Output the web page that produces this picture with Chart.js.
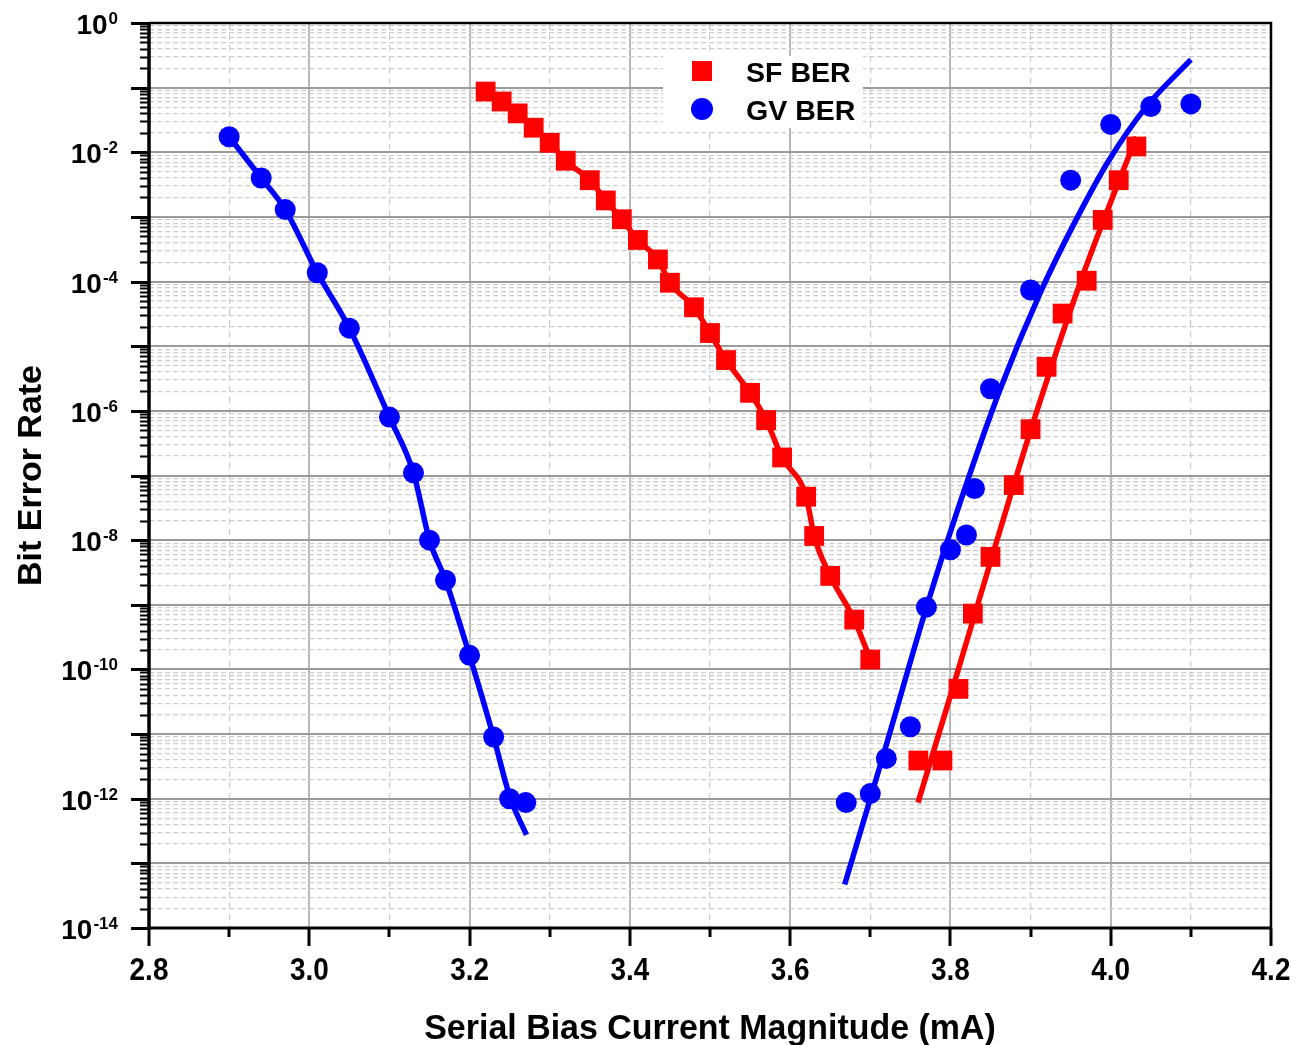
<!DOCTYPE html>
<html><head><meta charset="utf-8">
<script src="https://cdn.jsdelivr.net/npm/chart.js@4.4.1/dist/chart.umd.min.js"></script>
<style>html,body{margin:0;padding:0;background:#fff;overflow:hidden}</style>
</head><body>
<canvas id="c" width="1296" height="1045" style="display:block;width:1296px;height:1045px"></canvas>
<script>
// ---------- DATA ----------
const sfLabel = 'SF BER';
const gvLabel = 'GV BER';
const sfX   = [3.22, 3.24, 3.26, 3.28, 3.30, 3.32, 3.35, 3.37, 3.39, 3.41, 3.435, 3.45, 3.48, 3.50, 3.52, 3.55, 3.57, 3.59, 3.62, 3.63, 3.65, 3.68, 3.70,
               3.76, 3.79, 3.81, 3.828, 3.85, 3.879, 3.90, 3.92, 3.94, 3.97, 3.99, 4.01, 4.032];
const sfBER = [8.7e-2, 6.1e-2, 4.0e-2, 2.4e-2, 1.4e-2, 7.4e-3, 3.7e-3, 1.8e-3, 9.2e-4, 4.4e-4, 2.2e-4, 9.6e-5, 4.0e-5, 1.6e-5, 6.1e-6, 1.9e-6, 7.2e-7, 1.9e-7, 4.7e-8, 1.16e-8, 2.8e-9, 5.9e-10, 1.42e-10,
               3.9e-12, 3.9e-12, 5.0e-11, 7.3e-10, 5.5e-9, 7.1e-8, 5.2e-7, 4.8e-6, 3.2e-5, 1.03e-4, 9.0e-4, 3.7e-3, 1.23e-2];
const gvX   = [2.90, 2.94, 2.97, 3.01, 3.05, 3.10, 3.13, 3.15, 3.17, 3.20, 3.23, 3.25, 3.27,
               3.67, 3.70, 3.72, 3.75, 3.77, 3.80, 3.82, 3.83, 3.85, 3.90, 3.95, 4.00, 4.05, 4.10];
const gvBER = [1.74e-2, 4.0e-3, 1.3e-3, 1.37e-4, 1.9e-5, 8.0e-7, 1.1e-7, 1.0e-8, 2.4e-9, 1.65e-10, 9.0e-12, 1.0e-12, 8.7e-13,
               8.7e-13, 1.2e-12, 4.2e-12, 1.3e-11, 9.2e-10, 7.1e-9, 1.2e-8, 6.3e-8, 2.2e-6, 7.4e-5, 3.7e-3, 2.7e-2, 5.1e-2, 5.6e-2];

// fitted curves
const sfFitLeftX  = [3.22, 3.24, 3.26, 3.28, 3.30, 3.32, 3.35, 3.37, 3.39, 3.41, 3.435, 3.45, 3.48, 3.50, 3.52, 3.55, 3.57, 3.59, 3.62, 3.63, 3.65, 3.68, 3.70];
const sfFitLeftY  = [8.7e-2, 6.1e-2, 4.0e-2, 2.4e-2, 1.4e-2, 7.4e-3, 3.7e-3, 1.8e-3, 9.2e-4, 4.4e-4, 2.2e-4, 9.6e-5, 4.0e-5, 1.6e-5, 6.1e-6, 1.9e-6, 7.2e-7, 1.9e-7, 4.7e-8, 1.16e-8, 2.8e-9, 5.9e-10, 1.42e-10];
const sfFitRightX = [3.7595, 3.805, 3.852, 3.901, 3.963, 4.032];
const sfFitRightY = [8.7e-13, 6.3e-11, 5.6e-9, 5.4e-7, 1.05e-4, 1.74e-2];
const gvFitLeftX  = [2.90, 2.94, 2.97, 3.01, 3.05, 3.10, 3.13, 3.15, 3.17, 3.20, 3.23, 3.25, 3.271];
const gvFitLeftY  = [1.74e-2, 4.0e-3, 1.3e-3, 1.37e-4, 1.9e-5, 8.0e-7, 1.1e-7, 1.0e-8, 2.4e-9, 1.65e-10, 9.0e-12, 1.1e-12, 2.75e-13];
const gvFitRightX = [3.668, 3.70, 3.72, 3.77, 3.81, 3.861, 3.913, 3.959, 3.998, 4.044, 4.10];
const gvFitRightY = [4.7e-14, 1.0e-12, 6.8e-12, 9.1e-10, 3.2e-8, 2.0e-6, 7.1e-5, 1.02e-3, 7.6e-3, 5.0e-2, 2.71e-1];

// axes
const xTickLabels = ['2.8', '3.0', '3.2', '3.4', '3.6', '3.8', '4.0', '4.2'];
const yDecadeExps = [0, -1, -2, -3, -4, -5, -6, -7, -8, -9, -10, -11, -12, -13, -14];
const yLabelExps  = [0, -2, -4, -6, -8, -10, -12, -14];
const xTitle = 'Serial Bias Current Magnitude (mA)';
const yTitle = 'Bit Error Rate';

// ---------- helpers ----------
const RED = '#ff0000', BLUE = '#0000ff';
const FONT = '"Liberation Sans", Arial, Helvetica, sans-serif';
const pts = (xs, ys) => xs.map((x, i) => ({ x: x, y: ys[i] }));
const xMajorVals = xTickLabels.map(Number);
const xMinorVals = xMajorVals.slice(0, -1).map((v, i) => (v + xMajorVals[i + 1]) / 2);
const xAllTicks = xMajorVals.concat(xMinorVals).sort((a, b) => a - b);
const yMajorVals = yDecadeExps.map(e => Math.pow(10, e));
const yMinorVals = [];
yDecadeExps.forEach(e => { if (e > -14) for (let k = 2; k <= 9; k++) yMinorVals.push(k * Math.pow(10, e - 1)); });
const yAllTicks = yMajorVals.concat(yMinorVals).sort((a, b) => a - b);
const isDecade = v => { const l = Math.log10(v); return Math.abs(l - Math.round(l)) < 1e-6; };
const isMajorX = v => xMajorVals.some(m => Math.abs(m - v) < 1e-6);

function txt(ctx, s, x, y, font, align, sx) {
  ctx.save(); ctx.font = font; ctx.textAlign = align; ctx.textBaseline = 'alphabetic';
  ctx.translate(x, y); ctx.scale(sx || 1, 1); ctx.fillStyle = '#000'; ctx.fillText(s, 0, 0); ctx.restore();
}

const decor = {
  id: 'decor',
  beforeDraw(chart) {
    const c = chart.ctx; c.save(); c.fillStyle = '#fff'; c.fillRect(0, 0, chart.width, chart.height); c.restore();
  },
  afterDraw(chart) {
    const c = chart.ctx, a = chart.chartArea, xs = chart.scales.x, ys = chart.scales.y;
    c.save();
    c.strokeStyle = '#000'; c.lineCap = 'butt';
    // y ticks
    yAllTicks.forEach(v => {
      const y = Math.round(ys.getPixelForValue(v)) + 0.5;
      const maj = isDecade(v);
      c.lineWidth = maj ? 3 : 2;
      c.beginPath(); c.moveTo(a.left - (maj ? 18 : 9), y); c.lineTo(a.left, y); c.stroke();
    });
    // x ticks
    xAllTicks.forEach(v => {
      const x = Math.round(xs.getPixelForValue(v));
      const maj = isMajorX(v);
      c.lineWidth = 3;
      c.beginPath(); c.moveTo(x, a.bottom); c.lineTo(x, a.bottom + (maj ? 18 : 9)); c.stroke();
    });
    // frame
    c.lineWidth = 2.5;
    c.beginPath(); c.moveTo(a.left, a.top); c.lineTo(a.right, a.top); c.lineTo(a.right, a.bottom); c.stroke();
    c.lineWidth = 3.5;
    c.beginPath(); c.moveTo(a.left, a.top - 1); c.lineTo(a.left, a.bottom + 2); c.stroke();
    c.lineWidth = 3;
    c.beginPath(); c.moveTo(a.left - 2, a.bottom); c.lineTo(a.right + 1, a.bottom); c.stroke();
    // y tick labels 10^n
    yLabelExps.forEach(e => {
      const y = ys.getPixelForValue(Math.pow(10, e));
      const f1 = 'bold 28px ' + FONT, f2 = 'bold 17px ' + FONT;
      c.font = f2; const w2 = c.measureText(String(e)).width;
      const right = 118;
      txt(c, String(e), right, y + 1, f2, 'right');
      txt(c, '10', right - w2 - 1, y + 11, f1, 'right');
    });
    // x tick labels
    xTickLabels.forEach(s => {
      const x = xs.getPixelForValue(Number(s));
      txt(c, s, x, 980, 'bold 31px ' + FONT, 'center', 0.9);
    });
    // axis titles
    txt(c, xTitle, (a.left + a.right) / 2, 1039, 'bold 35px ' + FONT, 'center', 0.97);
    c.save(); c.translate(41, (a.top + a.bottom) / 2); c.rotate(-Math.PI / 2);
    txt(c, yTitle, 0, 0, 'bold 34px ' + FONT, 'center', 1);
    c.restore();
    // legend
    c.fillStyle = '#fff'; c.fillRect(663, 56, 200, 72);
    const items = chart.data.datasets.filter(d => d.inLegend);
    items.forEach((d, i) => {
      const cy = 71 + i * 38;
      c.fillStyle = d.backgroundColor;
      if (d.pointStyle === 'rect') { c.fillRect(692, cy - 10, 20, 20); }
      else { c.beginPath(); c.arc(702, cy, 11, 0, Math.PI * 2); c.fill(); }
      txt(c, d.label, 746, cy + 10.5, 'bold 28px ' + FONT, 'left', 1.02);
    });
    c.restore();
  }
};

const lineDs = (xs, ys, col) => ({
  data: pts(xs, ys), showLine: true, borderColor: col, borderWidth: 5.5, pointRadius: 0,
  cubicInterpolationMode: 'monotone', fill: false, order: 2, inLegend: false
});

new Chart(document.getElementById('c'), {
  type: 'scatter',
  data: {
    datasets: [
      { label: sfLabel, data: pts(sfX, sfBER), pointStyle: 'rect', pointRadius: 14, backgroundColor: RED, borderColor: RED, pointBorderWidth: 0, order: 0, inLegend: true },
      { label: gvLabel, data: pts(gvX, gvBER), pointStyle: 'circle', pointRadius: 10.5, backgroundColor: BLUE, borderColor: BLUE, pointBorderWidth: 0, order: 0, inLegend: true },
      lineDs(sfFitLeftX, sfFitLeftY, RED),
      lineDs(sfFitRightX, sfFitRightY, RED),
      lineDs(gvFitLeftX, gvFitLeftY, BLUE),
      lineDs(gvFitRightX, gvFitRightY, BLUE)
    ]
  },
  options: {
    responsive: false, animation: false, devicePixelRatio: 1,
    layout: { padding: { top: 23, right: 25, left: 0, bottom: 0 } },
    plugins: { legend: { display: false }, tooltip: { enabled: false } },
    scales: {
      x: {
        type: 'linear', min: 2.8, max: 4.2,
        afterBuildTicks: s => { s.ticks = xAllTicks.map(v => ({ value: v })); },
        afterFit: s => { s.height = 117; },
        ticks: { display: false },
        grid: {
          drawTicks: false,
          color: ctx => ctx.tick && isMajorX(ctx.tick.value) ? '#b8b8b8' : '#cccccc',
          lineWidth: ctx => ctx.tick && isMajorX(ctx.tick.value) ? 2 : 1.2
        },
        border: { display: false, dash: ctx => (ctx.tick && !isMajorX(ctx.tick.value)) ? [6, 5] : [] }
      },
      y: {
        type: 'logarithmic', min: 1e-14, max: 1,
        afterBuildTicks: s => { s.ticks = yAllTicks.map(v => ({ value: v })); },
        afterFit: s => { s.width = 149; },
        ticks: { display: false },
        grid: {
          drawTicks: false,
          color: ctx => ctx.tick && isDecade(ctx.tick.value) ? '#9a9a9a' : '#cdcdcd',
          lineWidth: ctx => ctx.tick && isDecade(ctx.tick.value) ? 2 : 1.2
        },
        border: { display: false, dash: ctx => (ctx.tick && !isDecade(ctx.tick.value)) ? [5, 3] : [] }
      }
    }
  },
  plugins: [decor]
});
</script>
</body></html>
